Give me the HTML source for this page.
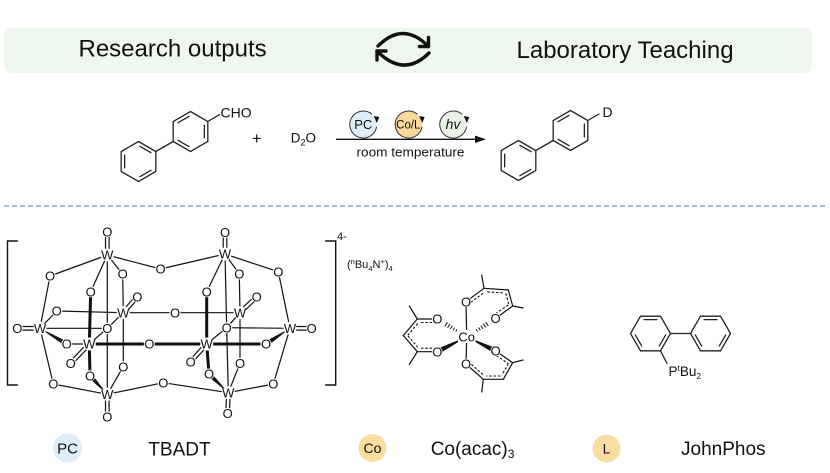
<!DOCTYPE html>
<html><head><meta charset="utf-8"><style>
html,body{margin:0;padding:0;background:#fff;}
svg{display:block;}
text{font-family:"Liberation Sans",Arial,sans-serif;fill:#111;}
</style></head><body>
<svg width="830" height="473" viewBox="0 0 830 473" xmlns="http://www.w3.org/2000/svg">
<rect x="0" y="0" width="830" height="473" fill="#fff"/>
<!-- Banner -->
<rect x="4" y="28" width="808" height="45" rx="7" fill="#eef8ee"/>
<text x="78.5" y="56.5" font-size="24">Research outputs</text>
<text x="516.5" y="58" font-size="24">Laboratory Teaching</text>
<g fill="none" stroke="#111" stroke-width="3.4" stroke-linecap="round" stroke-linejoin="round">
<path d="M378,46 Q403,21 428,46"/>
<path d="M419.5,46.5 L428.5,46.5 L428.5,37.5"/>
<path d="M429,53 Q404,78 377,51"/>
<path d="M386,51 L377,51 L377,60"/>
</g>

<!-- Reaction: reactant -->
<g stroke="#222" stroke-width="1.3" fill="none" stroke-linecap="round">
<g transform="translate(138.5,161.5)">
<polygon points="0,-20 17.32,-10 17.32,10 0,20 -17.32,10 -17.32,-10"/>
<line x1="1.39" y1="-15.2" x2="12.47" y2="-8.8"/><line x1="12.47" y1="8.8" x2="1.39" y2="15.2"/><line x1="-13.86" y1="6.4" x2="-13.86" y2="-6.4"/>
</g>
<g transform="translate(190.5,131.5)">
<polygon points="0,-20 17.32,-10 17.32,10 0,20 -17.32,10 -17.32,-10"/>
<line x1="-12.47" y1="-8.8" x2="-1.39" y2="-15.2"/><line x1="13.86" y1="-6.4" x2="13.86" y2="6.4"/><line x1="-1.39" y1="15.2" x2="-12.47" y2="8.8"/>
</g>
<line x1="155.8" y1="151.5" x2="173.2" y2="141.5"/>
<line x1="207.8" y1="121.5" x2="219.5" y2="114.6"/>
<!-- product -->
<g transform="translate(518.5,160.5)">
<polygon points="0,-20 17.32,-10 17.32,10 0,20 -17.32,10 -17.32,-10"/>
<line x1="1.39" y1="-15.2" x2="12.47" y2="-8.8"/><line x1="12.47" y1="8.8" x2="1.39" y2="15.2"/><line x1="-13.86" y1="6.4" x2="-13.86" y2="-6.4"/>
</g>
<g transform="translate(570.5,130.5)">
<polygon points="0,-20 17.32,-10 17.32,10 0,20 -17.32,10 -17.32,-10"/>
<line x1="-12.47" y1="-8.8" x2="-1.39" y2="-15.2"/><line x1="13.86" y1="-6.4" x2="13.86" y2="6.4"/><line x1="-1.39" y1="15.2" x2="-12.47" y2="8.8"/>
</g>
<line x1="535.8" y1="150.5" x2="553.2" y2="140.5"/>
<line x1="587.8" y1="120.5" x2="599" y2="114"/>
</g>
<text x="220.5" y="117.3" font-size="14">CHO</text>
<text x="602.5" y="117" font-size="14">D</text>
<text x="256.7" y="144" font-size="17" text-anchor="middle">+</text>
<text x="290.7" y="142.7" font-size="13.5">D<tspan font-size="9" dy="3">2</tspan><tspan dy="-3">O</tspan></text>

<!-- arrow -->
<line x1="336" y1="139.3" x2="477" y2="139.3" stroke="#111" stroke-width="1.3"/>
<polygon points="486,139.3 475,135.6 475,143" fill="#111"/>
<text x="410.5" y="156.7" font-size="12.5" text-anchor="middle" textLength="108" lengthAdjust="spacingAndGlyphs">room temperature</text>

<!-- catalyst circles -->
<g stroke="#333" stroke-width="1">
<circle cx="363.3" cy="124.5" r="13.5" fill="#ddeef9" stroke="none"/>
<path d="M376.6,126.8 A13.5,13.5 0 1 1 372,114.2" fill="none"/>
<circle cx="408.7" cy="124.5" r="13.5" fill="#f7d79c" stroke="none"/>
<path d="M422,126.8 A13.5,13.5 0 1 1 417.4,114.2" fill="none"/>
<circle cx="453.3" cy="124.5" r="13.5" fill="#e8f3e5" stroke="none"/>
<path d="M466.6,126.8 A13.5,13.5 0 1 1 462,114.2" fill="none"/>
</g>
<g fill="#111">
<polygon points="376.8,123 373.8,116 379.3,117"/>
<polygon points="422.2,123 419.2,116 424.7,117"/>
<polygon points="466.8,123 463.8,116 469.3,117"/>
</g>
<text x="363.3" y="129.2" font-size="13" text-anchor="middle">PC</text>
<text x="408.3" y="128.7" font-size="11.5" text-anchor="middle">Co/L</text>
<text x="453" y="129.2" font-size="14" font-style="italic" text-anchor="middle">hv</text>

<!-- dashed separator -->
<line x1="4" y1="206" x2="826" y2="206" stroke="#6f93c4" stroke-width="1.2" stroke-dasharray="5 3"/>

<!-- TBADT -->
<g stroke="#111" stroke-width="1.4" fill="none" stroke-linecap="round">
<path d="M17.3,241 H7.5 V385 H17.3"/>
<path d="M325.7,241 H335.7 V385 H325.7"/>
</g>
<text x="337" y="240" font-size="11">4-</text>
<text x="347" y="268" font-size="11">(<tspan font-size="7.5" dy="-4">n</tspan><tspan dy="4">Bu</tspan><tspan font-size="7.5" dy="3">4</tspan><tspan dy="-3">N</tspan><tspan font-size="7.5" dy="-4">+</tspan><tspan dy="4">)</tspan><tspan font-size="7.5" dy="3">4</tspan></text>

<g stroke="#111" stroke-width="1.2" fill="none">
<line x1="107.3" y1="255" x2="50" y2="276"/>
<line x1="107.3" y1="255" x2="160.5" y2="269"/>
<line x1="107.3" y1="255" x2="122.7" y2="274"/>
<line x1="107.3" y1="255" x2="90.7" y2="291.7"/>
<line x1="107.3" y1="255" x2="107.3" y2="328.3"/>
<line x1="107.3" y1="328.3" x2="107.3" y2="394.3"/>
<line x1="122.7" y1="274" x2="123.3" y2="312.7"/>
<line x1="123.3" y1="312.7" x2="123.3" y2="366.7"/>
<line x1="123.3" y1="366.7" x2="107.3" y2="394.3"/>
<line x1="107.3" y1="394.3" x2="53.3" y2="384"/>
<line x1="107.3" y1="394.3" x2="163.3" y2="382.7"/>
<line x1="50" y1="276" x2="40" y2="328.3"/>
<line x1="53.3" y1="384" x2="40" y2="328.3"/>
<line x1="40" y1="328.3" x2="56.7" y2="311"/>
<line x1="56.7" y1="311" x2="123.3" y2="312.7"/>
<line x1="123.3" y1="312.7" x2="175" y2="312.7"/>
<line x1="40" y1="328.3" x2="107.3" y2="328.3"/>
<line x1="66.7" y1="344" x2="89.3" y2="344"/>
<line x1="123.3" y1="312.7" x2="107.3" y2="328.3"/>
<line x1="107.3" y1="328.3" x2="89.3" y2="344"/>
<line x1="160.5" y1="269" x2="225" y2="254"/>
<line x1="225" y1="254" x2="239.3" y2="274"/>
<line x1="225" y1="254" x2="278.3" y2="271.7"/>
<line x1="225" y1="254" x2="206.7" y2="291.7"/>
<line x1="225" y1="254" x2="226.7" y2="327.7"/>
<line x1="226.7" y1="327.7" x2="228.3" y2="392.7"/>
<line x1="239.3" y1="274" x2="240" y2="312.7"/>
<line x1="240" y1="312.7" x2="240" y2="363.3"/>
<line x1="240" y1="363.3" x2="228.3" y2="392.7"/>
<line x1="228.3" y1="392.7" x2="163.3" y2="382.7"/>
<line x1="228.3" y1="392.7" x2="273.3" y2="384"/>
<line x1="278.3" y1="271.7" x2="290" y2="328.3"/>
<line x1="273.3" y1="384" x2="290" y2="328.3"/>
<line x1="175" y1="312.7" x2="240" y2="312.7"/>
<line x1="240" y1="312.7" x2="226.7" y2="327.7"/>
<line x1="226.7" y1="327.7" x2="290" y2="328.3"/>
<line x1="226.7" y1="327.7" x2="206.7" y2="344"/>
<!-- doubles -->
<line x1="105.5" y1="231.7" x2="105.5" y2="255"/><line x1="109.1" y1="231.7" x2="109.1" y2="255"/>
<line x1="105.5" y1="394.3" x2="105.5" y2="416.7"/><line x1="109.1" y1="394.3" x2="109.1" y2="416.7"/>
<line x1="223.2" y1="232.3" x2="223.2" y2="254"/><line x1="226.8" y1="232.3" x2="226.8" y2="254"/>
<line x1="226.5" y1="392.7" x2="225.9" y2="413.3"/><line x1="230.1" y1="392.7" x2="229.5" y2="413.3"/>
<line x1="17.3" y1="326.5" x2="40" y2="326.5"/><line x1="17.3" y1="330.1" x2="40" y2="330.1"/>
<line x1="290" y1="326.5" x2="311.7" y2="326.5"/><line x1="290" y1="330.1" x2="311.7" y2="330.1"/>
<line x1="124.65" y1="313.88" x2="138.65" y2="297.88"/><line x1="121.95" y1="311.52" x2="135.95" y2="295.52"/>
<line x1="90.6" y1="345.25" x2="72" y2="364.55"/><line x1="88" y1="342.75" x2="69.4" y2="362.05"/>
<line x1="241.25" y1="314" x2="257.95" y2="298"/><line x1="238.75" y1="311.4" x2="255.45" y2="295.4"/>
<line x1="208.03" y1="345.21" x2="192.03" y2="362.91"/><line x1="205.37" y1="342.79" x2="189.37" y2="360.49"/>
</g>
<g stroke="#111" stroke-width="3" fill="none">
<line x1="90.7" y1="291.7" x2="89.3" y2="344"/>
<line x1="89.3" y1="344" x2="90" y2="375.7"/>
<line x1="89.3" y1="344" x2="149.3" y2="344"/>
<line x1="149.3" y1="344" x2="206.7" y2="344"/>
<line x1="206.7" y1="344" x2="266" y2="344"/>
<line x1="206.7" y1="291.7" x2="206.7" y2="344"/>
<line x1="206.7" y1="344" x2="209" y2="374"/>
</g>
<g fill="#111">
<polygon points="40,328.3 65.4,346.2 68,341.9"/>
<polygon points="107.3,394.3 91.83,374 88.17,377.4"/>
<polygon points="290,328.3 267.4,346.1 264.6,341.9"/>
<polygon points="228.3,392.7 210.7,372.2 207.3,375.8"/>
</g>
<g fill="#fff">
<circle cx="107.3" cy="231.7" r="5.5"/><circle cx="107.3" cy="255" r="6.5"/><circle cx="50" cy="276" r="5.5"/><circle cx="160.5" cy="269" r="5.5"/><circle cx="122.7" cy="274" r="5.5"/><circle cx="90.7" cy="291.7" r="5.5"/><circle cx="123.3" cy="312.7" r="6.5"/><circle cx="137.3" cy="296.7" r="5.5"/><circle cx="56.7" cy="311" r="5.5"/><circle cx="175" cy="312.7" r="5.5"/><circle cx="40" cy="328.3" r="6.5"/><circle cx="17.3" cy="328.3" r="5.5"/><circle cx="107.3" cy="328.3" r="5.5"/><circle cx="66.7" cy="344" r="5.5"/><circle cx="89.3" cy="344" r="6.5"/><circle cx="149.3" cy="344" r="5.5"/><circle cx="70.7" cy="363.3" r="5.5"/><circle cx="123.3" cy="366.7" r="5.5"/><circle cx="90" cy="375.7" r="5.5"/><circle cx="53.3" cy="384" r="5.5"/><circle cx="163.3" cy="382.7" r="5.5"/><circle cx="107.3" cy="394.3" r="6.5"/><circle cx="107.3" cy="416.7" r="5.5"/>
<circle cx="225" cy="232.3" r="5.5"/><circle cx="225" cy="254" r="6.5"/><circle cx="239.3" cy="274" r="5.5"/><circle cx="278.3" cy="271.7" r="5.5"/><circle cx="206.7" cy="291.7" r="5.5"/><circle cx="240" cy="312.7" r="6.5"/><circle cx="256.7" cy="296.7" r="5.5"/><circle cx="226.7" cy="327.7" r="5.5"/><circle cx="290" cy="328.3" r="6.5"/><circle cx="311.7" cy="328.3" r="5.5"/><circle cx="206.7" cy="344" r="6.5"/><circle cx="266" cy="344" r="5.5"/><circle cx="190.7" cy="361.7" r="5.5"/><circle cx="240" cy="363.3" r="5.5"/><circle cx="209" cy="374" r="5.5"/><circle cx="273.3" cy="384" r="5.5"/><circle cx="228.3" cy="392.7" r="6.5"/><circle cx="227.7" cy="413.3" r="5.5"/>
</g>
<g font-size="13" text-anchor="middle">
<text x="107.3" y="236.4">O</text><text x="107.3" y="259.7">W</text><text x="50" y="280.7">O</text><text x="160.5" y="273.7">O</text><text x="122.7" y="278.7">O</text><text x="90.7" y="296.4">O</text><text x="123.3" y="317.4">W</text><text x="137.3" y="301.4">O</text><text x="56.7" y="315.7">O</text><text x="175" y="317.4">O</text><text x="40" y="333">W</text><text x="17.3" y="333">O</text><text x="107.3" y="333">O</text><text x="66.7" y="348.7">O</text><text x="89.3" y="348.7">W</text><text x="149.3" y="348.7">O</text><text x="70.7" y="368">O</text><text x="123.3" y="371.4">O</text><text x="90" y="380.4">O</text><text x="53.3" y="388.7">O</text><text x="163.3" y="387.4">O</text><text x="107.3" y="399">W</text><text x="107.3" y="421.4">O</text>
<text x="225" y="237">O</text><text x="225" y="258.7">W</text><text x="239.3" y="278.7">O</text><text x="278.3" y="276.4">O</text><text x="206.7" y="296.4">O</text><text x="240" y="317.4">W</text><text x="256.7" y="301.4">O</text><text x="226.7" y="332.4">O</text><text x="290" y="333">W</text><text x="311.7" y="333">O</text><text x="206.7" y="348.7">W</text><text x="266" y="348.7">O</text><text x="190.7" y="366.4">O</text><text x="240" y="368">O</text><text x="209" y="378.7">O</text><text x="273.3" y="388.7">O</text><text x="228.3" y="397.4">W</text><text x="227.7" y="418">O</text>
</g>

<!-- Co(acac)3 -->
<g stroke="#111" stroke-width="1.2" fill="none" stroke-linecap="round">
<line x1="466.7" y1="336.7" x2="466" y2="301.7"/>
<line x1="466.7" y1="336.7" x2="466" y2="364"/>
<!-- left ligand -->
<line x1="437.3" y1="319" x2="417.3" y2="319"/>
<line x1="417.3" y1="319" x2="409.3" y2="306"/>
<line x1="417.3" y1="319" x2="403.3" y2="335.5"/>
<line x1="403.3" y1="335.5" x2="417.3" y2="351.7"/>
<line x1="417.3" y1="351.7" x2="409.3" y2="364.5"/>
<line x1="417.3" y1="351.7" x2="437.3" y2="351.7"/>
<!-- top right ligand -->
<line x1="466" y1="301.7" x2="484" y2="288.3"/>
<line x1="484" y1="288.3" x2="481.7" y2="275"/>
<line x1="484" y1="288.3" x2="508.3" y2="290"/>
<line x1="508.3" y1="290" x2="512.7" y2="306"/>
<line x1="512.7" y1="306" x2="523" y2="308"/>
<line x1="512.7" y1="306" x2="495.5" y2="318.5"/>
<!-- bottom right ligand -->
<line x1="495.7" y1="351" x2="512.7" y2="362.7"/>
<line x1="512.7" y1="362.7" x2="523" y2="360"/>
<line x1="512.7" y1="362.7" x2="503.3" y2="379.3"/>
<line x1="503.3" y1="379.3" x2="483.3" y2="379.3"/>
<line x1="483.3" y1="379.3" x2="481.7" y2="392"/>
<line x1="483.3" y1="379.3" x2="466" y2="364"/>
</g>
<g stroke="#111" stroke-width="1.1" fill="none" stroke-dasharray="2.5 1.8">
<line x1="421" y1="322.5" x2="433" y2="322.5"/>
<line x1="417.7" y1="323.6" x2="407.9" y2="335.1"/>
<line x1="407.9" y1="335.9" x2="417.7" y2="347.1"/>
<line x1="421" y1="348.2" x2="433" y2="348.2"/>
<line x1="470.7" y1="302.4" x2="483.3" y2="293"/>
<line x1="487.4" y1="291.9" x2="504.5" y2="293"/>
<line x1="505.8" y1="293.3" x2="508.8" y2="304.5"/>
<line x1="508.3" y1="305" x2="496.5" y2="312.9"/>
<line x1="496.4" y1="355.5" x2="508.3" y2="363.6"/>
<line x1="508.4" y1="363.6" x2="501.8" y2="375.2"/>
<line x1="500.3" y1="376" x2="486.3" y2="376"/>
<line x1="482.9" y1="374.5" x2="470.8" y2="363.8"/>
</g>
<g stroke="#111" stroke-width="1">
<line x1="459.5" y1="331.2" x2="458.5" y2="333"/>
<line x1="457.1" y1="329.4" x2="455.7" y2="331.6"/>
<line x1="454.6" y1="327.6" x2="453" y2="330.4"/>
<line x1="452.3" y1="325.8" x2="450.3" y2="329"/>
<line x1="449.8" y1="324" x2="447.6" y2="327.8"/>
<line x1="447.4" y1="322.2" x2="444.8" y2="326.4"/>
<line x1="474.8" y1="332.7" x2="473.8" y2="331.1"/>
<line x1="477.6" y1="331.4" x2="476.2" y2="329.2"/>
<line x1="480.3" y1="330.2" x2="478.6" y2="327.4"/>
<line x1="482.9" y1="328.8" x2="480.9" y2="325.6"/>
<line x1="485.7" y1="327.5" x2="483.3" y2="323.7"/>
<line x1="488.3" y1="326.1" x2="485.7" y2="321.9"/>
</g>
<g fill="#111">
<polygon points="466.7,336.7 438.6,354.2 436,349.2"/>
<polygon points="466.7,336.7 494.5,353.5 496.9,348.5"/>
</g>
<g fill="#fff">
<rect x="458" y="330" width="17.5" height="13"/>
<circle cx="466" cy="301.7" r="5.3"/><circle cx="466" cy="364" r="5.3"/><circle cx="437.3" cy="319" r="5.3"/><circle cx="437.3" cy="351.7" r="5.3"/><circle cx="495.5" cy="318.5" r="5.3"/><circle cx="495.7" cy="351" r="5.3"/>
</g>
<g font-size="13" text-anchor="middle">
<text x="466.7" y="341.4">Co</text>
<text x="466" y="306.4">O</text><text x="466" y="368.7">O</text><text x="437.3" y="323.7">O</text><text x="437.3" y="356.4">O</text><text x="495.5" y="323.2">O</text><text x="495.7" y="355.7">O</text>
</g>

<!-- JohnPhos -->
<g stroke="#222" stroke-width="1.3" fill="none" stroke-linecap="round">
<g transform="translate(650.5,333.5)">
<polygon points="20,0 10,17.32 -10,17.32 -20,0 -10,-17.32 10,-17.32"/>
<line x1="-6.4" y1="-13.86" x2="6.4" y2="-13.86"/><line x1="15.2" y1="1.39" x2="8.8" y2="12.47"/><line x1="-8.8" y1="12.47" x2="-15.2" y2="1.39"/>
</g>
<g transform="translate(710.5,333.5)">
<polygon points="20,0 10,17.32 -10,17.32 -20,0 -10,-17.32 10,-17.32"/>
<line x1="-6.4" y1="-13.86" x2="6.4" y2="-13.86"/><line x1="15.2" y1="1.39" x2="8.8" y2="12.47"/><line x1="-8.8" y1="12.47" x2="-15.2" y2="1.39"/>
</g>
<line x1="670.5" y1="333.5" x2="690.5" y2="333.5"/>
<line x1="660.5" y1="350.8" x2="667" y2="363.5"/>
</g>
<text x="668.5" y="376" font-size="13.5">P<tspan font-size="8.5" dy="-5">t</tspan><tspan dy="5">Bu</tspan><tspan font-size="8.5" dy="3">2</tspan></text>

<!-- bottom labels -->
<circle cx="67.5" cy="448" r="14.5" fill="#dceef8"/>
<text x="67.5" y="453.5" font-size="15" text-anchor="middle">PC</text>
<text x="148.3" y="455.5" font-size="19">TBADT</text>
<circle cx="372.5" cy="448" r="14" fill="#f9dca2"/>
<text x="372.5" y="453" font-size="14" text-anchor="middle">Co</text>
<text x="430.7" y="455" font-size="19">Co(acac)<tspan font-size="12" dy="3">3</tspan></text>
<circle cx="606.5" cy="448.5" r="14" fill="#f9dca2"/>
<text x="606.5" y="453.5" font-size="14" text-anchor="middle">L</text>
<text x="681" y="455" font-size="19">JohnPhos</text>
</svg>
</body></html>
